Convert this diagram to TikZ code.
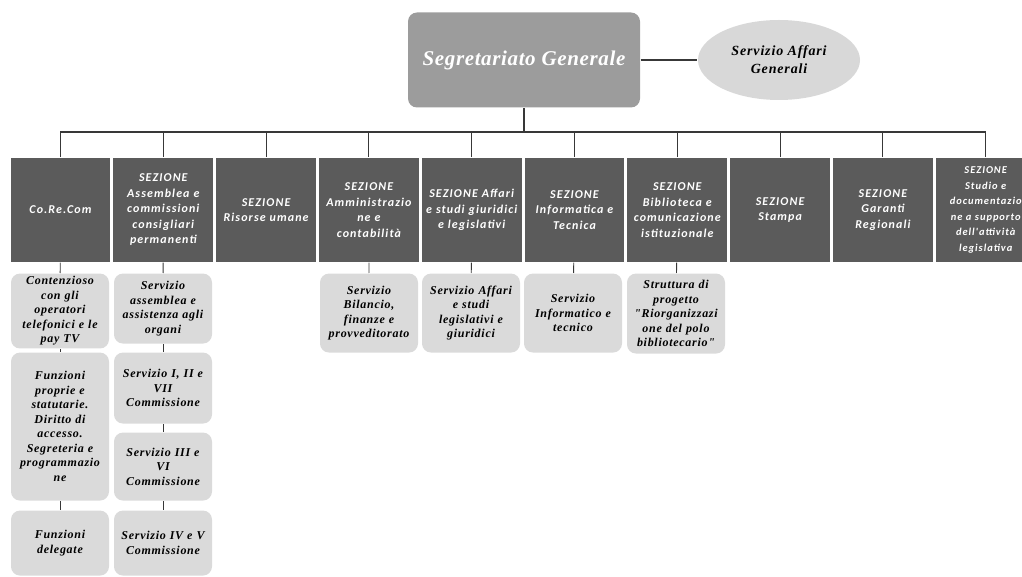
\documentclass[tikz,border=0pt]{standalone}
\usepackage{fontspec}
\setmainfont{Liberation Serif}
\newfontfamily\sezfont[LetterSpace=9]{Carlito}
\newfontfamily\srvfont[LetterSpace=6]{Liberation Serif}
\newfontfamily\topfont[LetterSpace=3]{Liberation Serif}
\usetikzlibrary{shapes.geometric}

\definecolor{topgray}{HTML}{9C9C9C}
\definecolor{ellgray}{HTML}{D8D8D8}
\definecolor{sezgray}{HTML}{5B5B5B}
\definecolor{subgray}{HTML}{DADADA}
\definecolor{linegray}{HTML}{383838}

\begin{document}
\begin{tikzpicture}[
            x = 1pt, y = -1pt, % pixel grid, y going down
            node distance = 102.8pt, % distance between sections
            line width = 1.1pt, % line style
            draw = linegray
        ]

        \tikzstyle{sezione}=[
            fill = sezgray,
            text = white,
            text width = 94pt,
            inner sep = 2.9pt,
            minimum height = 104pt,
            align = center,
            font = \sezfont\bfseries\itshape\fontsize{12}{15.5}\selectfont
        ]
        \tikzstyle{servizio}=[
            fill = subgray,
            rounded corners = 9pt,
            text width = 92pt,
            inner sep = 3pt,
            align = center,
            anchor = north,
            font = \srvfont\bfseries\itshape\fontsize{12}{14.5}\selectfont
        ]
        \tikzstyle{link}=[
            draw = linegray,
            line width = 0.9pt
        ]

        \useasboundingbox (0,0) rectangle (1022,577);

        % top of the chart
        \node[fill = topgray, rounded corners = 9pt, minimum width = 232pt,
              minimum height = 95pt, text = white,
              font = \topfont\bfseries\itshape\fontsize{21}{24}\selectfont]
              (sg) at (524,60) {Segretariato Generale};
        \node[ellipse, fill = ellgray, minimum width = 162pt, minimum height = 80pt,
              align = center, font = \srvfont\bfseries\itshape\fontsize{14}{18}\selectfont]
              (saf) at (779,60) {Servizio Affari\\Generali};

        % sections
        \node[sezione] (s1) at (60.5,210) {Co.Re.Com};
        \node[sezione] (s2) [right of=s1] {SEZIONE\\Assemblea e\\commissioni\\consigliari\\permanenti};
        \node[sezione] (s3) [right of=s2] {SEZIONE\\Risorse umane};
        \node[sezione] (s4) [right of=s3] {SEZIONE\\Amministrazio\\ne e\\contabilità};
        \node[sezione] (s5) [right of=s4] {SEZIONE Affari\\e studi giuridici\\e legislativi};
        \node[sezione] (s6) [right of=s5] {SEZIONE\\Informatica e\\Tecnica};
        \node[sezione] (s7) [right of=s6] {SEZIONE\\Biblioteca e\\comunicazione\\istituzionale};
        \node[sezione] (s8) [right of=s7] {SEZIONE\\Stampa};
        \node[sezione] (s9) [right of=s8] {SEZIONE\\Garanti\\Regionali};
        \node[sezione, font = \sezfont\bfseries\itshape\fontsize{10.5}{15.5}\selectfont]
            (s10) [right of=s9] {SEZIONE\\Studio e\\documentazio\\ne a supporto\\dell'attività\\legislativa};

        % services
        \node[servizio, minimum height = 72pt] (c1a) at (60,273)
            {Contenzioso\\con gli\\operatori\\telefonici e le\\pay TV};
        \node[servizio, minimum height = 148pt] (c1b) at (60,352)
            {Funzioni\\proprie e\\statutarie.\\Diritto di\\accesso.\\Segreteria e\\programmazio\\ne};
        \node[servizio, minimum height = 65pt] (c1c) at (60,510)
            {Funzioni\\delegate};
        \node[servizio, minimum height = 70pt] (c2a) at (163,273)
            {Servizio\\assemblea e\\assistenza agli\\organi};
        \node[servizio, minimum height = 71pt] (c2b) at (163,352)
            {Servizio I, II e\\VII\\Commissione};
        \node[servizio, minimum height = 68pt] (c2c) at (163,432)
            {Servizio III e\\VI\\Commissione};
        \node[servizio, minimum height = 65pt] (c2d) at (163,510)
            {Servizio IV e V\\Commissione};
        \node[servizio, minimum height = 79pt] (c4) at (369,273)
            {Servizio\\Bilancio,\\finanze e\\provveditorato};
        \node[servizio, minimum height = 79pt] (c5) at (471,273)
            {Servizio Affari\\e studi\\legislativi e\\giuridici};
        \node[servizio, minimum height = 79pt] (c6) at (573,273)
            {Servizio\\Informatico e\\tecnico};
        \node[servizio, minimum height = 80pt] (c7) at (676,273)
            {Struttura di\\progetto\\\symbol{34}Riorganizzazi\\one del polo\\bibliotecario\symbol{34}};

        \coordinate (bus) at (524,132);

        \draw (sg.east) -- (saf.west);
        \draw (sg.south) -- (bus);
        \foreach \i in {1,...,10}
            \draw (bus) -| (s\i.north);

        \path[link] (s1) edge (c1a);
        \path[link] (c1a) edge (c1b);
        \path[link] (c1b) edge (c1c);
        \path[link] (s2) edge (c2a);
        \path[link] (c2a) edge (c2b);
        \path[link] (c2b) edge (c2c);
        \path[link] (c2c) edge (c2d);
        \path[link] (s4) edge (c4);
        \path[link] (s5) edge (c5);
        \path[link] (s6) edge (c6);
        \path[link] (s7) edge (c7);

    \end{tikzpicture}
\end{document}
